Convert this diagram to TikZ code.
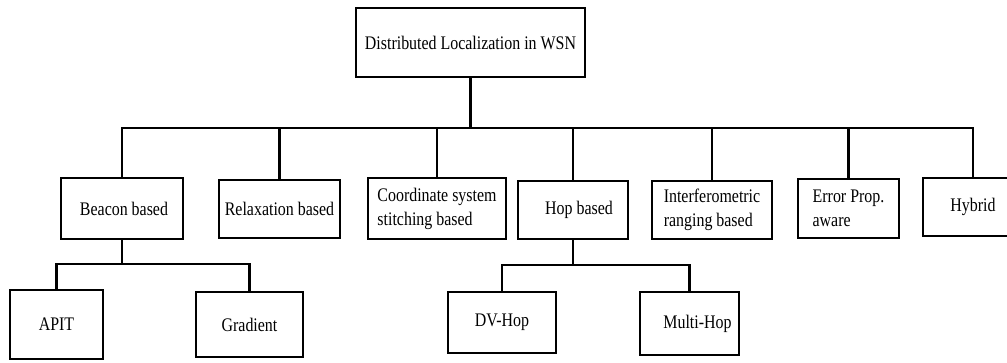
\documentclass[tikz,border=0pt]{standalone}
\usepackage{fontspec}
\setmainfont{Liberation Serif}[FakeStretch=0.83]
\begin{document}
\begin{tikzpicture}[x=1pt,y=-1pt,
  box/.style={draw, line width=2.5pt, inner sep=0pt, align=center,
    font=\fontsize{19.2}{24}\selectfont},
  conn/.style={line width=2.4pt}]
\useasboundingbox (0,0) rectangle (1007,362);
\node[box, minimum width=229pt, minimum height=69pt] (root) at (470.5,42.5) {Distributed Localization in WSN};
\node[box, minimum width=122pt, minimum height=61pt] (beacon) at (122,208.5) {\hspace{4pt}Beacon based};
\node[box, minimum width=121pt, minimum height=58pt] (relax) at (279.5,209) {Relaxation based};
\node[box, minimum width=138pt, minimum height=61pt, align=left] (coord) at (437,208.5) {Coordinate system\\stitching based};
\node[box, minimum width=110pt, minimum height=58pt] (hop) at (573,210) {\hspace{12pt}Hop based};
\node[box, minimum width=120pt, minimum height=58pt, align=left] (inter) at (712,210) {Interferometric\\ranging based};
\node[box, minimum width=101pt, minimum height=59pt, align=left] (err) at (848.5,208.5) {Error Prop.\\aware};
\node[box, minimum width=100pt, minimum height=58pt] (hybrid) at (973,207) {Hybrid};
\node[box, minimum width=93pt, minimum height=69pt] (apit) at (56.5,324.5) {APIT};
\node[box, minimum width=107pt, minimum height=65pt] (grad) at (249.5,324.5) {Gradient};
\node[box, minimum width=108pt, minimum height=61pt] (dv) at (502,322.5) {DV-Hop};
\node[box, minimum width=99pt, minimum height=63pt] (multi) at (689.5,323.5) {\hspace{16pt}Multi-Hop};
\coordinate (bus) at (471,128);
\coordinate (busb) at (122,264);
\coordinate (bush) at (573,265);
\foreach \c in {beacon,relax,coord,hop,inter,err,hybrid}
  \draw[conn] (root.south) -- (root.south |- bus) -| (\c.north);
\foreach \c in {apit,grad}
  \draw[conn] (beacon.south) -- (beacon.south |- busb) -| (\c.north);
\foreach \c in {dv,multi}
  \draw[conn] (hop.south) -- (hop.south |- bush) -| (\c.north);
\end{tikzpicture}
\end{document}
